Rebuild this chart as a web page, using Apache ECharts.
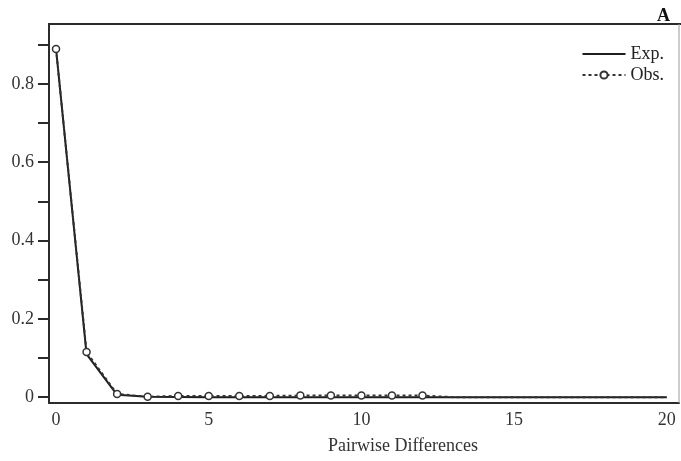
<!DOCTYPE html>
<html>
<head>
<meta charset="utf-8">
<script src="https://cdn.jsdelivr.net/npm/echarts@6/dist/echarts.min.js"></script>
<style>
  html, body { margin: 0; padding: 0; background: #fff; }
  #chart { width: 681px; height: 461px; }
</style>
</head>
<body>
<div id="chart"></div>
<script>
// Mismatch distribution: expected vs observed frequency of pairwise differences
const diffs = [0, 1, 2, 3, 4, 5, 6, 7, 8, 9, 10, 11, 12, 13, 14, 15, 16, 17, 18, 19, 20];
const expected = [0.890, 0.110, 0.006, 0.001, 0.0005, 0, 0, 0, 0, 0, 0, 0, 0, 0, 0, 0, 0, 0, 0, 0, 0];
const observed = [0.889, 0.115, 0.008, 0.001, 0.003, 0.003, 0.003, 0.003, 0.004, 0.004, 0.004, 0.004, 0.004, 0, 0, 0, 0, 0, 0, 0, 0];
const markedUpTo = 12; // observed points beyond this carry no marker
const xTickLabels = [0, 5, 10, 15, 20];
const yTicks = [0, 0.1, 0.2, 0.3, 0.4, 0.5, 0.6, 0.7, 0.8, 0.9];
const yTickLabels = [0, 0.2, 0.4, 0.6, 0.8];

const FONT = '"Liberation Serif", "DejaVu Serif", serif';
const INK = '#2b2b2b';

const chart = echarts.init(document.getElementById('chart'), null, { renderer: 'canvas' });

chart.setOption({
  animation: false,
  backgroundColor: '#fff',
  textStyle: { fontFamily: FONT },
  grid: { left: 49, top: 24, right: 2, bottom: 58, show: false },
  legend: {
    top: 40,
    right: 12,
    orient: 'vertical',
    itemGap: 3,
    itemWidth: 43,
    itemHeight: 9,
    textStyle: { fontFamily: FONT, fontSize: 18, color: '#222', padding: [0, 0, 0, 0] },
    data: [
      { name: 'Exp.', itemStyle: { opacity: 0 } },
      { name: 'Obs.' }
    ]
  },
  xAxis: {
    type: 'value',
    min: -0.23,
    max: 20.4,
    name: 'Pairwise Differences',
    nameLocation: 'middle',
    nameGap: 34,
    nameTextStyle: { fontFamily: FONT, fontSize: 18, color: '#333', padding: [0, 0, 0, 78] },
    axisLine: { show: true, onZero: false, lineStyle: { color: INK, width: 2 } },
    axisTick: { show: false },
    axisLabel: {
      customValues: xTickLabels,
      fontFamily: FONT, fontSize: 18, color: '#333', margin: 8
    },
    splitLine: { show: false }
  },
  yAxis: {
    type: 'value',
    min: -0.015,
    max: 0.953,
    axisLine: { show: true, onZero: false, lineStyle: { color: INK, width: 2 } },
    axisTick: {
      show: true, inside: false, length: 11,
      customValues: yTicks,
      lineStyle: { color: INK, width: 2 }
    },
    axisLabel: {
      customValues: yTickLabels,
      fontFamily: FONT, fontSize: 18, color: '#333', margin: 15,
      formatter: v => (v === 0 ? '0' : v.toFixed(1))
    },
    splitLine: { show: false }
  },
  graphic: [
    // frame: top edge runs full width, right edge lighter
    { type: 'line', shape: { x1: 48, y1: 24, x2: 681, y2: 24 }, style: { stroke: INK, lineWidth: 2 }, z: 10 },
    { type: 'line', shape: { x1: 679, y1: 24, x2: 679, y2: 403 }, style: { stroke: '#9a9a9a', lineWidth: 1 }, z: 10 },
    { type: 'text', left: 657, top: 7, style: { text: 'A', font: 'bold 18px ' + FONT, fill: '#111' }, z: 10 }
  ],
  series: [
    {
      name: 'Exp.',
      type: 'line',
      data: diffs.map((d, i) => [d, expected[i]]),
      symbol: 'none',
      lineStyle: { color: '#1e1e1e', width: 2 },
      itemStyle: { color: '#1e1e1e' },
      z: 3
    },
    {
      name: 'Obs.',
      type: 'line',
      data: diffs.map((d, i) => ({
        value: [d, observed[i]],
        symbol: d <= markedUpTo ? 'circle' : 'none'
      })),
      symbol: 'circle',
      symbolSize: 7,
      showAllSymbol: true,
      lineStyle: { color: '#333', width: 2, type: [3, 3] },
      itemStyle: { color: '#fff', borderColor: '#333', borderWidth: 1.5 },
      z: 4
    }
  ]
});
</script>
</body>
</html>
